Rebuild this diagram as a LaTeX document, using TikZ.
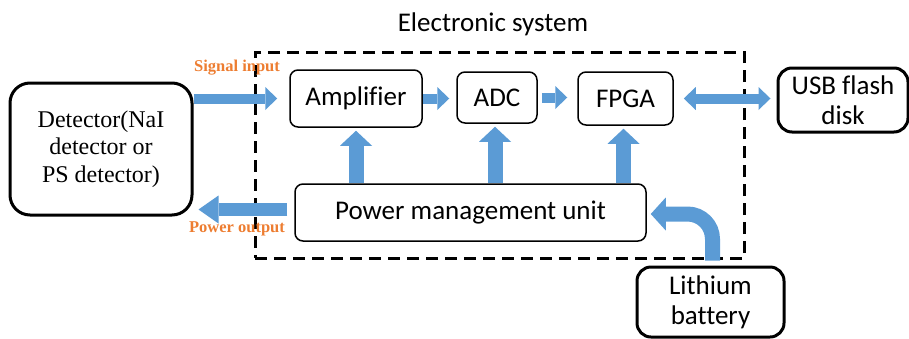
\documentclass[tikz,border=0pt]{standalone}
\usepackage{fontspec}
\setmainfont{Carlito}[Ligatures=CommonOff]
\newfontfamily\detfont{Liberation Serif}
\usetikzlibrary{positioning, arrows.meta}
\definecolor{arrowblue}{HTML}{5B9BD5}
\definecolor{tagorange}{HTML}{ED7D31}

\begin{document}
\begin{tikzpicture}[
    x=1pt, y=-1pt,
    font=\fontsize{27}{30}\selectfont,
    box/.style={
        rectangle,
        rounded corners=8pt,
        draw,
        line width=1.5pt,
        align=center
    },
    devbox/.style={
        rectangle,
        rounded corners=14pt,
        draw,
        line width=3pt,
        align=center
    },
    frame/.style={draw, line width=3pt, dash pattern=on 12pt off 7pt},
    arrow/.style={arrowblue, line width=10pt, -{Triangle[length=12pt, width=23pt, line width=0pt]}},
    bigarrow/.style={arrowblue, line width=15pt, -{Triangle[length=15pt, width=32pt, line width=0pt]}},
    tag/.style={tagorange, font=\detfont\bfseries\fontsize{16.5}{18}\selectfont}
]

\useasboundingbox (0,0) rectangle (909,338);

% Outside devices
\node[devbox, rounded corners=20pt, minimum width=182pt, minimum height=132pt,
      font=\detfont\fontsize{24}{27.5}\selectfont] (det) at (101,149) {Detector(NaI\\detector or\\PS detector)};
\node[devbox, minimum width=130pt, minimum height=64pt] (usb) at (843,100) {USB flash\\disk};
\node[devbox, minimum width=147pt, minimum height=70pt] (bat) at (710.5,302) {Lithium\\battery};

% Electronic system
\node[frame, minimum width=489pt, minimum height=206pt] (sys) at (499.5,155) {};
\node (title) at (493,24) {Electronic system};

\node[box, minimum width=132pt, minimum height=57pt] (amp) at (356,98.5) {Amplifier};
\node[box, minimum width=80pt, minimum height=51pt] (adc) at (497,97.5) {ADC};
\node[box, minimum width=95pt, minimum height=53pt] (fpga) at (625.5,98.5) {FPGA};
\node[box, minimum width=351pt, minimum height=57pt] (pmu) at (470.5,212.5) {Power management unit};

% Signal chain
\draw[arrow, shorten >=12pt] (det.east |- amp.west) -- (amp.west);
\draw[arrow, shorten >=7pt] (amp.east) -- (amp.east -| adc.west);
\draw[arrow, shorten <=4pt, shorten >=10pt] (adc.east) -- (adc.east -| fpga.west);
\draw[arrow, {Triangle[length=12pt, width=23pt, line width=0pt]}-{Triangle[length=12pt, width=23pt, line width=0pt]},
      shorten <=10pt, shorten >=6pt] (fpga.east) -- (fpga.east -| usb.west);

% Power distribution
\coordinate (pwrout) at ([xshift=-7pt, yshift=3pt]pmu.west);
\draw[arrow, line width=13pt, -{Triangle[length=20pt, width=28pt, line width=0pt]}, shorten >=5pt]
      (pwrout) -- (det.east |- pwrout);
\draw[bigarrow, shorten >=3pt] (amp.south |- pmu.north) -- (amp.south);
\draw[bigarrow, shorten >=3pt] ([xshift=-2pt]adc.south |- pmu.north) -- ([xshift=-2pt]adc.south);
\draw[bigarrow, shorten >=3pt] ([xshift=-2pt]fpga.south |- pmu.north) -- ([xshift=-2pt]fpga.south);
\draw[bigarrow, -{Triangle[length=15pt, width=33pt, line width=0pt]}, rounded corners=25pt, shorten >=4pt]
      ([xshift=2pt, yshift=5pt]bat.north) |- ([yshift=-1.5pt]pmu.east);

% Labels
\node[tag] (sigtag) at (237,68) {Signal input};
\node[tag] (pwrtag) at (237,229) {Power output};

\end{tikzpicture}
\end{document}
